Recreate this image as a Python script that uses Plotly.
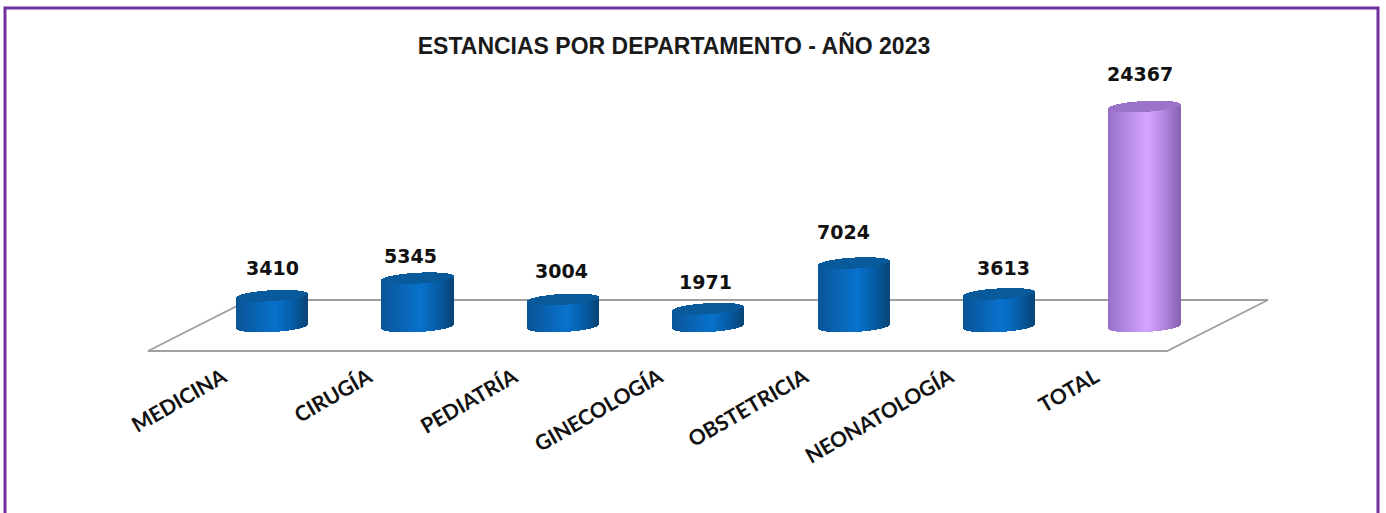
import math
import plotly.graph_objects as go

categories = ["MEDICINA", "CIRUGÍA", "PEDIATRÍA", "GINECOLOGÍA", "OBSTETRICIA", "NEONATOLOGÍA", "TOTAL"]
values = [3410, 5345, 3004, 1971, 7024, 3613, 24367]
value_labels = ["3410", "5345", "3004", "1971", "7024", "3613", "24367"]
title_text = "ESTANCIAS POR DEPARTAMENTO - AÑO 2023"

W, H = 1386, 513
FLOOR_Y = 351            # pixel of plot bottom (front floor edge)
BASE_Y = 326.5           # pixel of value 0
PX_PER_UNIT = 220 / 24367
CAT_X0, CAT_DX = 272, 145.4
CYL_W = 71

def lerp(a, b, t):
    return tuple(a[i] + (b[i] - a[i]) * t for i in range(3))

def ramp(stops, t):
    for (t0, c0), (t1, c1) in zip(stops, stops[1:]):
        if t <= t1:
            return lerp(c0, c1, (t - t0) / (t1 - t0))
    return stops[-1][1]

def css(c):
    return "rgb(%d,%d,%d)" % tuple(round(v) for v in c)

BLUE = [(0, (10, 84, 150)), (0.55, (8, 114, 205)), (0.8, (6, 92, 165)), (1, (8, 68, 118))]
PURPLE = [(0, (150, 112, 200)), (0.55, (212, 165, 255)), (0.8, (176, 132, 222)), (1, (138, 100, 180))]
CAP_BLUE = (9, 90, 155)
CAP_PURPLE = (155, 115, 200)

unit_per_px = 1 / PX_PER_UNIT
n_strips = CYL_W
strip_cat = 1 / CAT_DX             # one pixel in category units
ry_px, tilt_px = 5.5, 2.0          # ellipse half-height, tilt over half width

fig = go.Figure()
for k in range(n_strips):
    t = (k + 0.5) / n_strips
    u = 2 * t - 1
    arc = math.sqrt(max(0, 1 - u * u))
    front = (-ry_px * arc + tilt_px * u) * unit_per_px
    back = (ry_px * arc + tilt_px * u) * unit_per_px
    offset = (u * CYL_W / 2 - 0.5) * strip_cat
    body_colors = [css(ramp(PURPLE if c == "TOTAL" else BLUE, t)) for c in categories]
    cap_colors = [css(CAP_PURPLE if c == "TOTAL" else CAP_BLUE) for c in categories]
    fig.add_bar(x=categories, y=values, base=[front] * len(values),
                width=1.6 * strip_cat, offset=offset, marker=dict(color=body_colors, line_width=0),
                hoverinfo="skip", showlegend=False)
    fig.add_bar(x=categories, y=[back - front] * len(values), base=[v + front for v in values],
                width=1.6 * strip_cat, offset=offset, marker=dict(color=cap_colors, line_width=0),
                hoverinfo="skip", showlegend=False)

label_dx = [0, -7, -1, -3, -10, 4, -4]
label_dy = [27.7, 22.2, 28.4, 26.7, 31.1, 25.9, 32.5]
annotations = [
    dict(x=c, y=v, xref="x", yref="y", text="<b>%s</b>" % s, showarrow=False, yanchor="middle",
         yshift=dy, xshift=dx, font=dict(family="DejaVu Sans", size=19, color="#111111"))
    for c, v, s, dx, dy in zip(categories, values, value_labels, label_dx, label_dy)
]

def px_x(p):
    return p / W

def px_y(p):
    return 1 - p / FLOOR_Y

floor = [(148, 351), (1167, 351), (1268, 300), (249, 300)]
floor_path = "M " + " L ".join("%.5f,%.5f" % (px_x(x), px_y(y)) for x, y in floor) + " Z"
border = [(5, 513), (5, 8), (1378, 8), (1378, 513)]
border_path = "M " + " L ".join("%.5f,%.5f" % (px_x(x), px_y(y)) for x, y in border)

fig.update_layout(
    width=W, height=H, margin=dict(l=0, r=0, t=0, b=H - FLOOR_Y),
    paper_bgcolor="white", plot_bgcolor="rgba(0,0,0,0)",
    barmode="overlay", bargap=0, showlegend=False, hovermode=False,
    title=dict(text="<b>%s</b>" % title_text, x=674 / W, xanchor="center", y=1 - 46 / H, yanchor="middle",
               font=dict(family="Liberation Sans", size=23, color="#1a1a1a")),
    xaxis=dict(type="category", categoryorder="array", categoryarray=categories,
               range=[-CAT_X0 / CAT_DX, (W - CAT_X0) / CAT_DX],
               showgrid=False, zeroline=False, showline=False, ticks="",
               tickangle=-30, ticklabelshift=-49, ticklabelstandoff=9,
               tickfont=dict(family="Lato", size=21, color="#111111", weight="bold")),
    yaxis=dict(range=[(BASE_Y - FLOOR_Y) * unit_per_px, BASE_Y * unit_per_px],
               visible=False),
    shapes=[
        dict(type="path", path=floor_path, xref="paper", yref="paper", layer="below",
             line=dict(color="#a0a0a0", width=1.8), fillcolor="rgba(0,0,0,0)"),
        dict(type="path", path=border_path, xref="paper", yref="paper", layer="above",
             line=dict(color="#7030a0", width=3), fillcolor="rgba(0,0,0,0)"),
    ],
    annotations=annotations,
)
fig.write_html("out.html", config=dict(displayModeBar=False),
               post_script="document.body.style.margin='0';")
